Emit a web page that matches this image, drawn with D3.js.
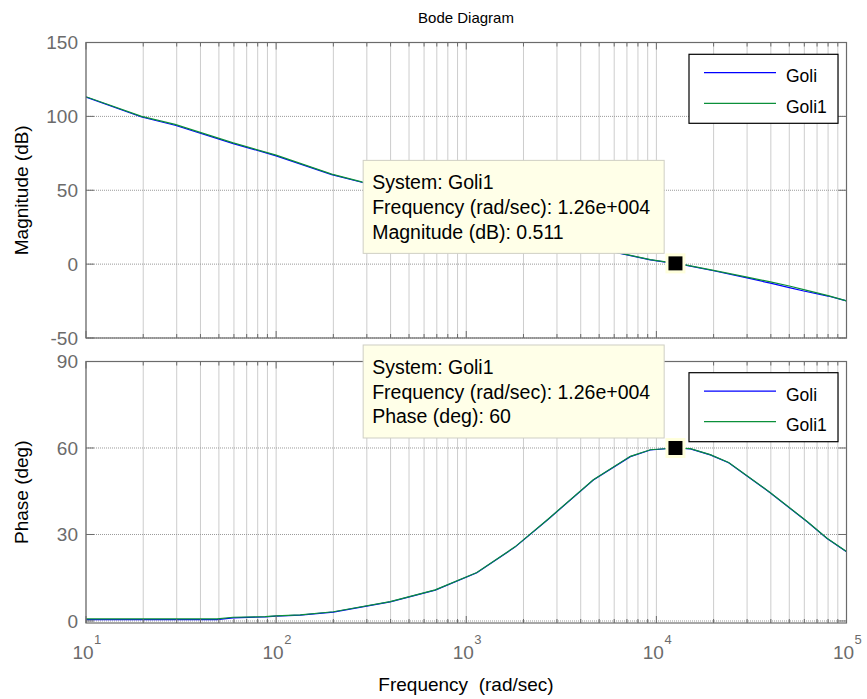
<!DOCTYPE html>
<html>
<head>
<meta charset="utf-8">
<script src="https://cdn.jsdelivr.net/npm/d3@7"></script>
<style>
  body { margin: 0; background: #fff; }
  svg { display: block; font-family: "Liberation Sans", Arial, sans-serif; }
</style>
</head>
<body>
<div id="chart"></div>
<script>
// values
const magFreq   = [10, 19.6, 29.4, 59.5, 100, 196, 282, 400, 690, 1000, 1400, 2000, 2800, 4000, 6000, 9290, 12600, 14200, 20000, 30000, 39800, 50000, 59600, 80000, 100000];
const magGoli1  = [113.3, 100, 94.6, 82.1, 73.8, 60.9, 55.7, 49.3, 39.9, 33.7, 28.0, 22.6, 17.7, 13.0, 8.3, 3.1, 0.511, -0.5, -4.2, -8.8, -12.0, -14.8, -17.3, -21.3, -24.9];
const magGoli   = [113.0, 99.6, 94.0, 81.6, 73.3, 60.6, 55.4, 49.0, 39.6, 33.4, 27.8, 22.4, 17.5, 12.8, 8.1, 2.9, 0.3, -0.7, -4.5, -9.3, -12.9, -15.9, -18.2, -21.6, -24.9];

const phaseFreq   = [10, 48.9, 59.4, 87.5, 100, 134, 200, 398, 687, 1137, 1811, 2700, 4660, 7300, 9290, 12600, 15100, 19200, 24000, 39800, 62100, 79000, 100000];
const phaseGoli1  = [0.7, 0.7, 1.3, 1.5, 1.8, 2.1, 3.2, 6.7, 10.8, 16.8, 25.8, 35.4, 49.0, 57.1, 59.4, 60, 59.8, 57.7, 55.0, 44.5, 34.5, 28.7, 24.1];
const phaseGoli   = [0.5, 0.5, 1.1, 1.4, 1.7, 2.0, 3.1, 6.6, 10.7, 16.7, 25.7, 35.3, 48.9, 57.0, 59.3, 60, 59.7, 57.6, 54.9, 44.4, 34.4, 28.6, 24.0];

const seriesNames = ["Goli", "Goli1"];
const seriesColors = ["#0000ff", "#0b8f3a"];
const magTicks = [-50, 0, 50, 100, 150];
const phaseTicks = [0, 30, 60, 90];
const decades = [1e1, 1e2, 1e3, 1e4, 1e5];

const tipSystem = "Goli1";
const tipFreq = 1.26e4;
const tipFreqLabel = "1.26e+004";
const tipMag = 0.511;
const tipPhase = 60;

const width = 867, height = 699;
const axisColor = "#6b6b6b";
const gridColor = "#9a9a9a";

const svg = d3.select("#chart").append("svg")
  .attr("width", width)
  .attr("height", height);

const x = d3.scaleLog().domain([10, 1e5]).range([86, 846.5]);
const yMag = d3.scaleLinear().domain([-50, 150]).range([338, 42.5]);
const yPh = d3.scaleLinear().domain([-0.7, 90]).range([623, 361.5]);

function panel(y, yTicks, id, series) {
  const [y1, y0] = [y.range()[0], y.range()[1]];
  const [x0, x1] = x.range();
  const g = svg.append("g");

  g.append("rect")
    .attr("x", x0).attr("y", y0)
    .attr("width", x1 - x0).attr("height", y1 - y0)
    .attr("fill", "#fff");

  // grid
  g.append("g").selectAll("line")
    .data(x.ticks())
    .join("line")
    .attr("x1", d => x(d)).attr("x2", d => x(d))
    .attr("y1", y0).attr("y2", y1)
    .attr("stroke", gridColor)
    .attr("stroke-width", 1)
    .attr("stroke-dasharray", "1,1");

  g.append("g").selectAll("line")
    .data(yTicks)
    .join("line")
    .attr("x1", x0).attr("x2", x1)
    .attr("y1", d => y(d)).attr("y2", d => y(d))
    .attr("stroke", gridColor)
    .attr("stroke-width", 1)
    .attr("stroke-dasharray", "1,1");

  // lines
  svg.append("clipPath").attr("id", id)
    .append("rect")
    .attr("x", x0).attr("y", y0)
    .attr("width", x1 - x0).attr("height", y1 - y0);

  series.forEach((s, i) => {
    const line = d3.line()
      .x(d => x(d[0]))
      .y(d => y(d[1]));
    g.append("path")
      .datum(d3.zip(s.freq, s.values))
      .attr("clip-path", `url(#${id})`)
      .attr("fill", "none")
      .attr("stroke", seriesColors[i])
      .attr("stroke-width", 1.2)
      .attr("d", line);
  });

  // ticks, inward on all four sides
  const tickLen = d => Number.isInteger(Math.round(Math.log10(d) * 1000) / 1000) ? 7 : 4;
  const xt = g.append("g").attr("stroke", axisColor);
  x.ticks().forEach(d => {
    xt.append("line").attr("x1", x(d)).attr("x2", x(d)).attr("y1", y1).attr("y2", y1 - tickLen(d));
    xt.append("line").attr("x1", x(d)).attr("x2", x(d)).attr("y1", y0).attr("y2", y0 + tickLen(d));
  });
  yTicks.forEach(d => {
    xt.append("line").attr("x1", x0).attr("x2", x0 + 8).attr("y1", y(d)).attr("y2", y(d));
    xt.append("line").attr("x1", x1).attr("x2", x1 - 8).attr("y1", y(d)).attr("y2", y(d));
  });

  // y tick labels
  g.append("g").selectAll("text")
    .data(yTicks)
    .join("text")
    .attr("x", x0 - 8)
    .attr("y", d => y(d))
    .attr("dy", "0.35em")
    .attr("text-anchor", "end")
    .attr("font-size", 19)
    .attr("fill", axisColor)
    .text(d => d);

  g.append("rect")
    .attr("x", x0).attr("y", y0)
    .attr("width", x1 - x0).attr("height", y1 - y0)
    .attr("fill", "none")
    .attr("stroke", axisColor)
    .attr("stroke-width", 1.2);

  return g;
}

function legend(top) {
  const g = svg.append("g");
  g.append("rect")
    .attr("x", 689).attr("y", top)
    .attr("width", 149).attr("height", 69)
    .attr("fill", "#fff")
    .attr("stroke", "#000")
    .attr("stroke-width", 1.2);
  seriesNames.forEach((name, i) => {
    const ly = top + 18.4 + i * 30.6;
    g.append("line")
      .attr("x1", 704).attr("x2", 776)
      .attr("y1", ly).attr("y2", ly)
      .attr("stroke", seriesColors[i])
      .attr("stroke-width", 1.2);
    g.append("text")
      .attr("x", 786).attr("y", ly + 9.5)
      .attr("font-size", 17.5)
      .attr("fill", "#000")
      .text(name);
  });
}

function datatip(px, py, lines) {
  const g = svg.append("g");
  const left = px - 312.3, top = py - 103;
  g.append("rect")
    .attr("x", left).attr("y", top)
    .attr("width", 301).attr("height", 93)
    .attr("fill", "#ffffe8")
    .attr("stroke", "#cfcfc4")
    .attr("stroke-width", 1);
  lines.forEach((t, i) => {
    g.append("text")
      .attr("x", left + 9)
      .attr("y", top + 29 + i * 24.6)
      .attr("font-size", 19.5)
      .attr("fill", "#000")
      .text(t);
  });
  g.append("rect")
    .attr("x", px - 10).attr("y", py - 10)
    .attr("width", 20).attr("height", 20)
    .attr("fill", "#ffffdc");
  g.append("rect")
    .attr("x", px - 7).attr("y", py - 7)
    .attr("width", 14).attr("height", 14)
    .attr("fill", "#000");
}

panel(yMag, magTicks, "clipMag", [
  { freq: magFreq, values: magGoli },
  { freq: magFreq, values: magGoli1 }
]);
panel(yPh, phaseTicks, "clipPh", [
  { freq: phaseFreq, values: phaseGoli },
  { freq: phaseFreq, values: phaseGoli1 }
]);

legend(54.3);
legend(372.7);

datatip(x(tipFreq), yMag(tipMag), [
  `System: ${tipSystem}`,
  `Frequency (rad/sec): ${tipFreqLabel}`,
  `Magnitude (dB): ${tipMag}`
]);
datatip(x(tipFreq), yPh(tipPhase), [
  `System: ${tipSystem}`,
  `Frequency (rad/sec): ${tipFreqLabel}`,
  `Phase (deg): ${tipPhase}`
]);

// x tick labels 10^n
const xl = svg.append("g").attr("fill", axisColor);
decades.forEach(d => {
  xl.append("text")
    .attr("x", x(d) - 3)
    .attr("y", 659)
    .attr("text-anchor", "middle")
    .attr("font-size", 19)
    .text("10");
  xl.append("text")
    .attr("x", x(d) + 8)
    .attr("y", 644)
    .attr("font-size", 13)
    .text(Math.round(Math.log10(d)));
});

// titles
svg.append("text")
  .attr("x", 466).attr("y", 23)
  .attr("text-anchor", "middle")
  .attr("font-size", 15)
  .text("Bode Diagram");

svg.append("text")
  .attr("x", 466).attr("y", 691)
  .attr("text-anchor", "middle")
  .attr("font-size", 19)
  .attr("xml:space", "preserve")
  .text("Frequency  (rad/sec)");

svg.append("text")
  .attr("transform", `translate(28,${(yMag.range()[0] + yMag.range()[1]) / 2}) rotate(-90)`)
  .attr("text-anchor", "middle")
  .attr("font-size", 19)
  .text("Magnitude (dB)");

svg.append("text")
  .attr("transform", `translate(28,${(yPh.range()[0] + yPh.range()[1]) / 2}) rotate(-90)`)
  .attr("text-anchor", "middle")
  .attr("font-size", 19)
  .text("Phase (deg)");
</script>
</body>
</html>
